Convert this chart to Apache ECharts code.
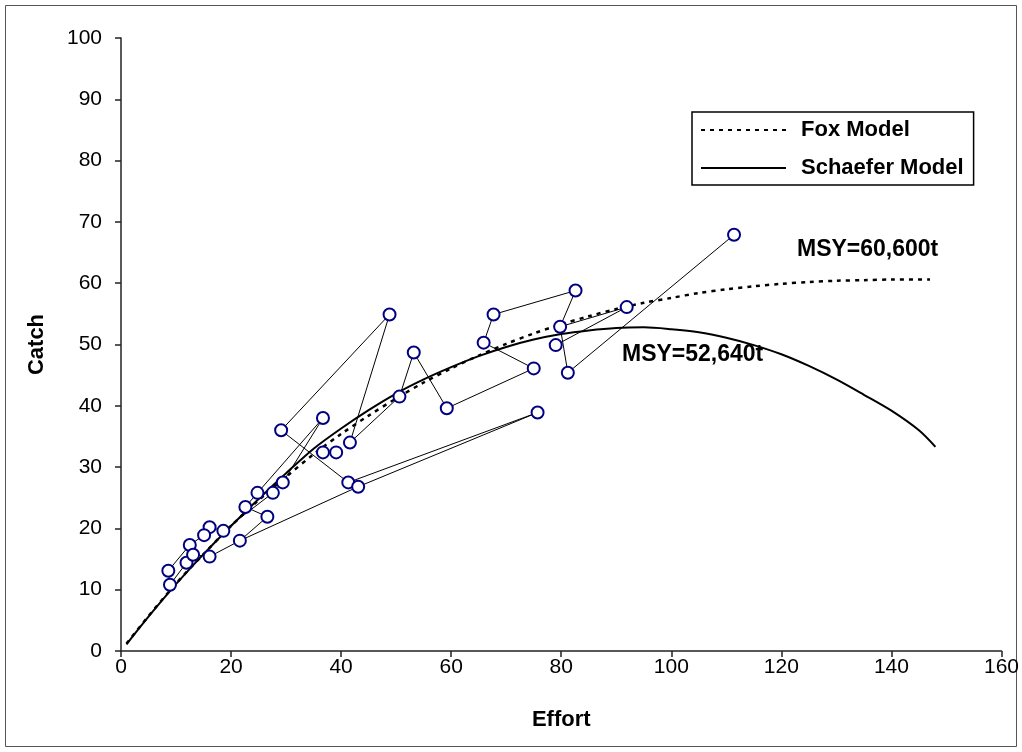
<!DOCTYPE html>
<html>
<head>
<meta charset="utf-8">
<title>Catch vs Effort</title>
<script src="https://cdn.jsdelivr.net/npm/echarts@6/dist/echarts.min.js"></script>
<style>
  html, body { margin: 0; padding: 0; background: #fff; }
  #chart { width: 1022px; height: 752px; }
</style>
</head>
<body>
<div id="chart"></div>
<script>
// Observed effort / catch pairs (one per year)
const obsEffort = [111.4, 81.2, 79.8, 82.6, 67.7, 65.9, 75.0, 59.2, 53.2, 50.6, 41.6, 48.8,
                   29.1, 41.3, 75.7, 43.1, 21.6, 26.6, 22.6, 24.8, 36.7, 29.4, 27.6, 18.6,
                   16.1, 15.1, 12.5, 8.6, 8.9, 11.9, 13.1, 16.1, 36.7, 39.1, 79.0, 91.9];
const obsCatch  = [67.9, 45.4, 52.9, 58.8, 54.9, 50.3, 46.1, 39.6, 48.7, 41.5, 34.0, 54.9,
                   36.0, 27.5, 38.9, 26.8, 18.0, 21.9, 23.5, 25.8, 38.0, 27.5, 25.8, 19.6,
                   20.2, 18.9, 17.3, 13.1, 10.8, 14.4, 15.7, 15.4, 32.4, 32.4, 49.9, 56.1];

// Year-to-year connections, as runs of indices into the observation arrays
const trackRuns = [
  [0, 1, 2, 3, 4, 5, 6, 7, 8, 9, 10, 11, 12, 13, 14, 15, 16, 17, 18, 19, 20, 21, 22,
   23, 24, 25, 26, 27, 28, 29, 30, 31, 16],
  [32, 33],
  [34, 35, 2]
];

// Fitted surplus-production curves
const schaeferEffort = [1, 5, 10, 15, 20, 25, 30, 35, 40, 45, 50, 55, 60, 65, 70, 75, 80, 85,
                        90, 95, 100, 105, 110, 115, 120, 125, 130, 135, 140, 145, 148];
const schaeferCatch  = [1.1, 5.6, 10.9, 15.8, 20.4, 24.8, 29.0, 33.0, 36.3, 39.3, 42.0, 44.3,
                        46.3, 48.1, 49.6, 50.8, 51.7, 52.3, 52.7, 52.8, 52.5, 52.0, 51.1, 49.9,
                        48.4, 46.5, 44.3, 41.8, 39.2, 36.0, 33.3];
const foxEffort = [1, 5, 10, 15, 20, 25, 30, 35, 40, 45, 50, 55, 60, 65, 70, 75, 80, 85,
                   90, 95, 100, 105, 110, 115, 120, 125, 130, 135, 140, 147];
const foxCatch  = [1.2, 5.7, 11.0, 15.8, 20.4, 24.6, 28.4, 32.1, 35.4, 38.4, 41.2, 43.8,
                   46.1, 48.2, 50.1, 51.8, 53.3, 54.6, 55.8, 56.8, 57.6, 58.4, 59.0, 59.5,
                   59.9, 60.2, 60.4, 60.5, 60.6, 60.6];

const xTicks = [0, 20, 40, 60, 80, 100, 120, 140, 160];
const yTicks = [0, 10, 20, 30, 40, 50, 60, 70, 80, 90, 100];
const msyLabels = ['MSY=60,600t', 'MSY=52,640t'];

const FONT = '"Liberation Sans", Arial, sans-serif';
const pair = (xs, ys) => xs.map((x, i) => [x, ys[i]]);

const trackSeries = trackRuns.map(run => ({
  type: 'line',
  data: run.map(i => [obsEffort[i], obsCatch[i]]),
  showSymbol: false,
  symbol: 'none',
  silent: true,
  lineStyle: { color: '#000', width: 1 },
  z: 3
}));

const chart = echarts.init(document.getElementById('chart'), null, { renderer: 'canvas' });

chart.setOption({
  animation: false,
  backgroundColor: '#fff',
  grid: { left: 121, right: 11, top: 38, bottom: 101, containLabel: false },
  xAxis: {
    type: 'value',
    min: xTicks[0], max: xTicks[xTicks.length - 1], interval: 20,
    name: 'Effort', nameLocation: 'middle', nameGap: 58,
    nameTextStyle: { fontFamily: FONT, fontWeight: 'bold', fontSize: 22, color: '#000' },
    axisLine: { lineStyle: { color: '#222', width: 1.5 } },
    axisTick: { show: true, length: 6, inside: false, lineStyle: { color: '#222', width: 1.5 } },
    axisLabel: { fontFamily: FONT, fontSize: 21, color: '#000', margin: 6 },
    splitLine: { show: false }
  },
  yAxis: {
    type: 'value',
    min: yTicks[0], max: yTicks[yTicks.length - 1], interval: 10,
    name: 'Catch', nameLocation: 'middle', nameGap: 73, nameRotate: 90,
    nameTextStyle: { fontFamily: FONT, fontWeight: 'bold', fontSize: 22, color: '#000' },
    axisLine: { show: true, lineStyle: { color: '#222', width: 1.5 } },
    axisTick: { show: true, length: 6, inside: false, lineStyle: { color: '#222', width: 1.5 } },
    axisLabel: { fontFamily: FONT, fontSize: 21, color: '#000', margin: 19 },
    splitLine: { show: false }
  },
  legend: {
    orient: 'vertical',
    left: 692, top: 112,
    padding: [7, 10, 6, 8],
    itemGap: 16,
    itemWidth: 85, itemHeight: 14,
    borderColor: '#000', borderWidth: 1.5,
    backgroundColor: '#fff',
    itemStyle: { opacity: 0 },
    textStyle: { fontFamily: FONT, fontWeight: 'bold', fontSize: 22, color: '#000', padding: [0, 0, 0, 10] },
    data: ['Fox Model', 'Schaefer Model']
  },
  series: [
    {
      name: 'Schaefer Model',
      type: 'line',
      data: pair(schaeferEffort, schaeferCatch),
      showSymbol: false, symbol: 'none', smooth: 0.3,
      lineStyle: { color: '#000', width: 2 },
      itemStyle: { color: '#000' },
      z: 2
    },
    {
      name: 'Fox Model',
      type: 'line',
      data: pair(foxEffort, foxCatch),
      showSymbol: false, symbol: 'none', smooth: 0.3,
      lineStyle: { color: '#000', width: 2.5, type: [4, 5] },
      itemStyle: { color: '#000' },
      z: 2
    },
    ...trackSeries,
    {
      name: 'Observed',
      type: 'scatter',
      data: pair(obsEffort, obsCatch),
      symbol: 'circle',
      symbolSize: 12,
      itemStyle: { color: '#fff', borderColor: '#000080', borderWidth: 2, opacity: 1 },
      z: 5
    }
  ],
  graphic: [
    {
      type: 'rect', silent: true, z: -1,
      shape: { x: 5.5, y: 5.5, width: 1011, height: 741 },
      style: { fill: 'none', stroke: '#555', lineWidth: 1 }
    },
    {
      type: 'text', left: 797, top: 238,
      style: { text: msyLabels[0], font: 'bold 23px ' + FONT, fill: '#000' }
    },
    {
      type: 'text', left: 622, top: 343,
      style: { text: msyLabels[1], font: 'bold 23px ' + FONT, fill: '#000' }
    }
  ]
});
</script>
</body>
</html>
